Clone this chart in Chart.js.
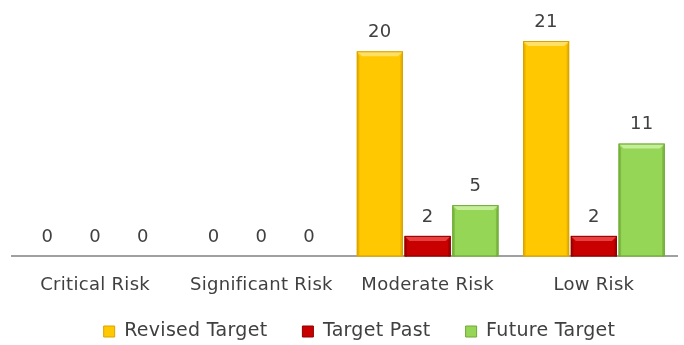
<!DOCTYPE html>
<html>
<head>
<meta charset="utf-8">
<script src="https://cdn.jsdelivr.net/npm/chart.js@4"></script>
<style>
  html, body { margin: 0; padding: 0; background: #fff; }
  #wrap { width: 684px; height: 345px; }
</style>
</head>
<body>
<div id="wrap"><canvas id="myChart"></canvas></div>
<script>
const categories = ["Critical Risk", "Significant Risk", "Moderate Risk", "Low Risk"];
const revisedTarget = [0, 0, 20, 21];
const targetPast = [0, 0, 2, 2];
const futureTarget = [0, 0, 5, 11];

const textColor = "#404040";
const fontFamily = "'DejaVu Sans', sans-serif";
const legendGap = 35;

// colours per series: body, top bevel, dark edge
const looks = [
    { body: "#FFC800", top: "#FFE066", edge: "#D9A300" },
    { body: "#C80000", top: "#E84040", edge: "#900000" },
    { body: "#96D656", top: "#C4EE98", edge: "#6FA838" }
];

// a bit wider text, closer to the original typeface
const spacing = {
    id: "spacing",
    beforeLayout(chart) { chart.ctx.letterSpacing = "0.3px"; },
    beforeDraw(chart) { chart.ctx.letterSpacing = "0.3px"; }
};

// legend: wide gaps between items but a short box
const legendFit = {
    id: "legendFit",
    beforeInit(chart) {
        const fit = chart.legend.fit;
        chart.legend.fit = function () {
            fit.call(this);
            this.height -= legendGap - 11;
        };
    },
    afterLayout(chart) {
        const lg = chart.legend;
        lg.top -= legendGap - 8;
        lg.left += 15;
        lg.right += 15;
    }
};

// bevelled bars drawn on top of the library's bar elements
const bevel = {
    id: "bevel",
    afterDatasetsDraw(chart) {
        const ctx = chart.ctx;
        chart.data.datasets.forEach((ds, i) => {
            const look = looks[i];
            chart.getDatasetMeta(i).data.forEach(bar => {
                const left = bar.x - bar.width / 2;
                const right = bar.x + bar.width / 2;
                const top = bar.y;
                const bottom = bar.base;
                const h = bottom - top;
                if (h < 1) return;
                const b = Math.min(5, h / 2);
                ctx.save();
                ctx.fillStyle = look.body;
                ctx.fillRect(left, top, right - left, h);
                // top bevel
                ctx.fillStyle = look.top;
                ctx.beginPath();
                ctx.moveTo(left, top);
                ctx.lineTo(right, top);
                ctx.lineTo(right - b, top + b);
                ctx.lineTo(left + b, top + b);
                ctx.closePath();
                ctx.fill();
                // side edges
                ctx.fillStyle = look.edge;
                ctx.globalAlpha = 0.6;
                ctx.beginPath();
                ctx.moveTo(left, top);
                ctx.lineTo(left + b * 0.5, top + b);
                ctx.lineTo(left + b * 0.5, bottom);
                ctx.lineTo(left, bottom);
                ctx.closePath();
                ctx.fill();
                ctx.beginPath();
                ctx.moveTo(right, top);
                ctx.lineTo(right - b * 0.5, top + b);
                ctx.lineTo(right - b * 0.5, bottom);
                ctx.lineTo(right, bottom);
                ctx.closePath();
                ctx.fill();
                ctx.globalAlpha = 1;
                ctx.strokeStyle = look.edge;
                ctx.lineWidth = 1;
                ctx.strokeRect(left + 0.5, top + 0.5, right - left - 1, h - 1);
                ctx.restore();
            });
        });
    }
};

// value labels above each bar
const valueLabels = {
    id: "valueLabels",
    afterDatasetsDraw(chart) {
        const ctx = chart.ctx;
        ctx.save();
        ctx.fillStyle = textColor;
        ctx.font = "18px " + fontFamily;
        ctx.textAlign = "center";
        ctx.textBaseline = "bottom";
        chart.data.datasets.forEach((ds, i) => {
            chart.getDatasetMeta(i).data.forEach((bar, j) => {
                ctx.fillText(String(ds.data[j]), bar.x, bar.y - 10);
            });
        });
        ctx.restore();
    }
};

const data = {
    labels: categories,
    datasets: [{
        label: "Revised Target",
        data: revisedTarget,
        backgroundColor: looks[0].body,
        borderColor: looks[0].edge,
        borderWidth: 1
    }, {
        label: "Target Past",
        data: targetPast,
        backgroundColor: looks[1].body,
        borderColor: looks[1].edge,
        borderWidth: 1
    }, {
        label: "Future Target",
        data: futureTarget,
        backgroundColor: looks[2].body,
        borderColor: looks[2].edge,
        borderWidth: 1
    }]
};

const config = {
    type: "bar",
    data: data,
    options: {
        responsive: true,
        maintainAspectRatio: false,
        animation: false,
        categoryPercentage: 0.862,
        barPercentage: 0.965,
        layout: {
            padding: { left: 12, right: 7, top: 0, bottom: -9 }
        },
        plugins: {
            tooltip: { enabled: false },
            legend: {
                position: "bottom",
                labels: {
                    color: textColor,
                    font: { family: fontFamily, size: 19 },
                    boxWidth: 11,
                    boxHeight: 11,
                    padding: legendGap
                }
            }
        },
        scales: {
            x: {
                grid: { display: false, drawTicks: false },
                border: { display: true, color: "#A0A0A0", width: 2 },
                ticks: {
                    color: textColor,
                    font: { family: fontFamily, size: 18 },
                    padding: 18
                }
            },
            y: {
                display: false,
                min: 0,
                max: 25
            }
        }
    },
    plugins: [spacing, legendFit, bevel, valueLabels]
};

const myChart = new Chart("myChart", config);
</script>
</body>
</html>
